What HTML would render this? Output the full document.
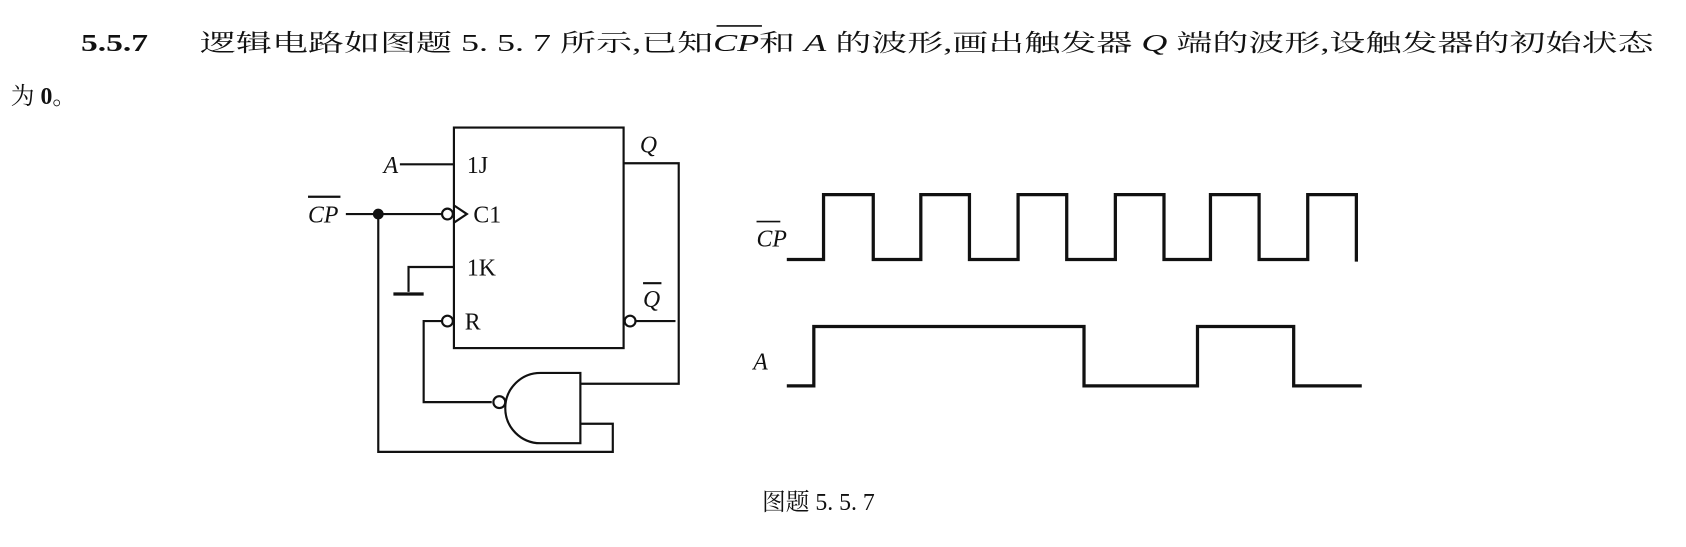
<!DOCTYPE html>
<html><head><meta charset="utf-8"><style>
html,body{margin:0;padding:0;background:#fff;}
svg{display:block;}
text{font-family:"Liberation Serif","Noto Serif CJK SC","Noto Sans CJK SC",serif;fill:#111;}
.it{font-style:italic;}
</style></head><body>
<svg width="1686" height="547" viewBox="0 0 1560 506" preserveAspectRatio="none" xmlns="http://www.w3.org/2000/svg">
<g font-size="22">
<text x="75" y="47" font-weight="bold" textLength="62" lengthAdjust="spacingAndGlyphs">5.5.7</text>
<text x="185" y="47" textLength="1345" lengthAdjust="spacingAndGlyphs">逻辑电路如图题 5. 5. 7 所示,已知<tspan class="it">CP</tspan>和 <tspan class="it">A</tspan> 的波形,画出触发器 <tspan class="it">Q</tspan> 端的波形,设触发器的初始状态</text>
<line x1="663" y1="24" x2="705" y2="24" stroke="#111" stroke-width="1.5"/>
<text x="10" y="96">为 <tspan font-weight="bold">0</tspan>。</text>
</g>
<g stroke="#111" stroke-width="2" fill="none">
<rect x="420" y="118" width="157" height="204"/>
<line x1="370" y1="152" x2="420" y2="152"/>
<line x1="320" y1="198" x2="408" y2="198"/>
<circle cx="414" cy="198" r="5" fill="#fff"/>
<polyline points="420,190 432,198 420,206"/>
<polyline points="420,247 378,247 378,270"/>
<line x1="364" y1="272" x2="392" y2="272" stroke-width="3"/>
<circle cx="414" cy="297" r="5" fill="#fff"/>
<polyline points="409,297 392,297 392,372 455,372"/>
<circle cx="583" cy="297" r="5" fill="#fff"/>
<line x1="588" y1="297" x2="625" y2="297"/>
<polyline points="577,151 628,151 628,355 537,355"/>
<path d="M537,345 L500,345 A32,32 0 0 0 500,410 L537,410 Z"/>
<circle cx="462" cy="372" r="5.5" fill="#fff"/>
<polyline points="537,392 567,392 567,418 350,418 350,198"/>
</g>
<circle cx="350" cy="198" r="5" fill="#111"/>
<g font-size="22">
<text x="355" y="160" class="it">A</text>
<text x="432" y="160">1J</text>
<text x="438" y="206">C1</text>
<text x="432" y="255">1K</text>
<text x="430" y="305">R</text>
<text x="592" y="141" class="it">Q</text>
<text x="595" y="284" class="it">Q</text>
<text x="285" y="206" class="it">CP</text>
<text x="700" y="228" class="it">CP</text>
<text x="697" y="342" class="it">A</text>
<text x="705" y="472">图题 5. 5. 7</text>
</g>
<g stroke="#111" stroke-width="2">
<line x1="595" y1="262" x2="612" y2="262"/>
<line x1="285" y1="182" x2="315" y2="182"/>
<line x1="700" y1="205" x2="722" y2="205" stroke-width="1.5"/>
</g>
<g stroke="#111" stroke-width="3" fill="none">
<polyline points="728,240 762,240 762,180 808,180 808,240 852,240 852,180 897,180 897,240 942,240 942,180 987,180 987,240 1032,240 1032,180 1077,180 1077,240 1120,240 1120,180 1165,180 1165,240 1210,240 1210,180 1255,180 1255,242"/>
<polyline points="728,357 753,357 753,302 1003,302 1003,357 1108,357 1108,302 1197,302 1197,357 1260,357"/>
</g>
</svg>
</body></html>
